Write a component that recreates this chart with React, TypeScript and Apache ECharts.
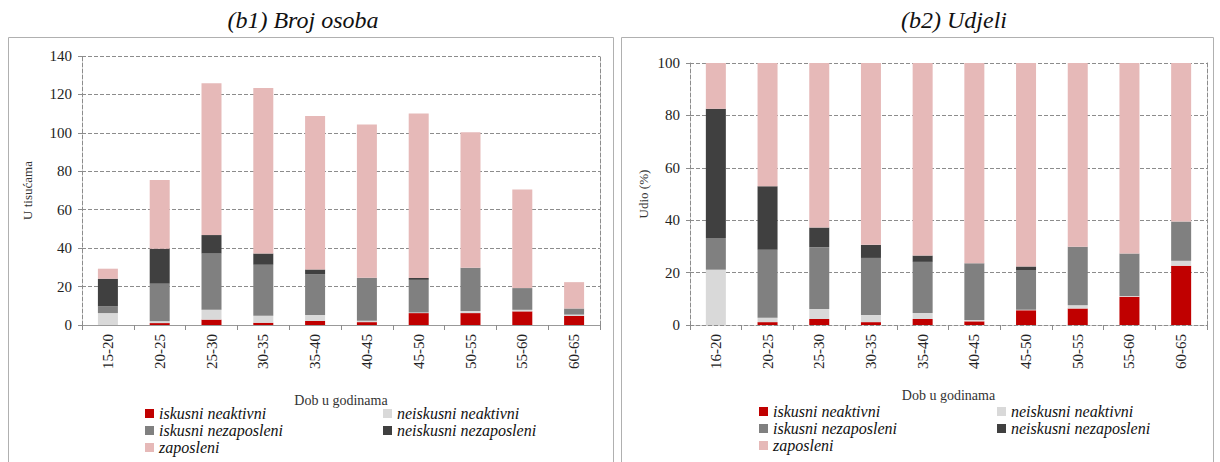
import React, { useEffect, useRef } from "react";
import * as echarts from "echarts";

const catsLeft = ["15-20", "20-25", "25-30", "30-35", "35-40", "40-45", "45-50", "50-55", "55-60", "60-65"];
const catsRight = ["16-20", "20-25", "25-30", "30-35", "35-40", "40-45", "45-50", "50-55", "55-60", "60-65"];

const seriesNames = ["iskusni neaktivni", "neiskusni neaktivni", "iskusni nezaposleni", "neiskusni nezaposleni", "zaposleni"];
const seriesColors = ["#C00000", "#D9D9D9", "#808080", "#404040", "#E6B9B8"];

// Left: number of persons (thousands)
const iskNeakL = [0, 1, 2.8, 1.2, 2.1, 1.5, 6.2, 6.2, 7.1, 4.7];
const neiskNeakL = [6.2, 1, 5.2, 3.6, 3.1, 0.7, 0.3, 1.1, 0.8, 0.7];
const iskNezL = [3.5, 19.5, 29.2, 26.5, 21.3, 22.4, 17, 22.5, 11.3, 3.2];
const neiskNezL = [14.4, 18.2, 9.6, 5.9, 2.4, 0, 1, 0, 0, 0];
const zapL = [5.2, 35.8, 79, 86.1, 79.9, 79.7, 85.6, 70.5, 51.3, 13.7];

// Right: shares (%)
const iskNeakR = [0, 1.1, 2.3, 1.1, 2.3, 1.4, 5.6, 6.3, 10.8, 22.6];
const neiskNeakR = [21.1, 1.7, 3.8, 2.7, 2.3, 0.5, 0.2, 1.2, 0.3, 1.9];
const iskNezR = [12.1, 25.9, 23.6, 21.8, 19.5, 21.7, 15.2, 22.4, 16.2, 15];
const neiskNezR = [49.3, 24.3, 7.5, 5.0, 2.4, 0, 1.3, 0, 0, 0];
const zapR = [17.5, 47, 62.8, 69.4, 73.5, 76.4, 77.7, 70.1, 72.7, 60.5];

const leftTicks = { min: 0, max: 140, interval: 20 };
const rightTicks = { min: 0, max: 100, interval: 20 };

const FONT = "'Liberation Serif', 'DejaVu Serif', serif";
const GRIDC = "#8c8c8c";

export default function App() {
  const ref = useRef<HTMLDivElement>(null);
  useEffect(() => {
    if (!ref.current) return;
    const chart = echarts.init(ref.current, null, { renderer: "svg" });
    const leftData = [iskNeakL, neiskNeakL, iskNezL, neiskNezL, zapL];
    const rightData = [iskNeakR, neiskNeakR, iskNezR, neiskNezR, zapR];

    const dashed = { show: true, lineStyle: { color: GRIDC, type: "dashed" as const, width: 1 } };

    const mkX = (grid: number, cats: string[]) => ({
      type: "category",
      gridIndex: grid,
      data: cats,
      name: "Dob u godinama",
      nameLocation: "middle",
      nameGap: grid === 0 ? 68 : 63,
      nameTextStyle: { fontFamily: FONT, fontSize: 14, color: "#333" },
      axisLine: dashed,
      axisTick: { show: true, alignWithLabel: false, length: 5, lineStyle: { color: GRIDC } },
      axisLabel: { rotate: 90, fontFamily: FONT, fontSize: 15, color: "#222", margin: 9 },
    });
    const mkY = (grid: number, t: any, name: string, gap: number) => ({
      type: "value",
      gridIndex: grid,
      ...t,
      name,
      nameLocation: "middle",
      nameGap: gap,
      nameTextStyle: { fontFamily: FONT, fontSize: 13, color: "#333" },
      axisLine: dashed,
      axisTick: { show: true, length: 4, lineStyle: { color: GRIDC } },
      axisLabel: { fontFamily: FONT, fontSize: 15, color: "#222", margin: 10 },
      splitLine: { show: true, lineStyle: { color: GRIDC, type: "dashed", width: 1 } },
    });
    const mkYRight = (grid: number, t: any) => ({
      type: "value",
      gridIndex: grid,
      position: "right",
      ...t,
      axisLine: dashed,
      axisTick: { show: false },
      axisLabel: { show: false },
      splitLine: { show: false },
    });

    const series: any[] = [];
    seriesNames.forEach((n, i) => {
      series.push({
        name: n,
        type: "bar",
        stack: "L",
        xAxisIndex: 0,
        yAxisIndex: 0,
        barWidth: 20,
        data: leftData[i],
        itemStyle: { color: seriesColors[i] },
      });
    });
    seriesNames.forEach((n, i) => {
      series.push({
        name: n,
        type: "bar",
        stack: "R",
        xAxisIndex: 1,
        yAxisIndex: 2,
        barWidth: 20,
        data: rightData[i],
        itemStyle: { color: seriesColors[i] },
      });
    });

    const legendBase = {
      orient: "vertical",
      itemWidth: 9,
      itemHeight: 9,
      itemGap: 0,
      padding: 0,
      height: 60,
      icon: "rect",
      textStyle: { fontFamily: FONT, fontStyle: "italic", fontSize: 16, color: "#111", lineHeight: 17 },
    };

    chart.setOption({
      animation: false,
      backgroundColor: "#fff",
      grid: [
        { left: 82, top: 56, width: 518, height: 269 },
        { left: 690, top: 63, width: 517, height: 262 },
      ],
      xAxis: [
        mkX(0, catsLeft),
        mkX(1, catsRight),
        {
          type: "category",
          gridIndex: 0,
          position: "top",
          data: catsLeft,
          axisLine: { show: true, lineStyle: { color: "#999", width: 1 } },
          axisTick: { show: false },
          axisLabel: { show: false },
        },
      ],
      yAxis: [
        mkY(0, leftTicks, "U tisućama", 48),
        mkYRight(0, leftTicks),
        mkY(1, rightTicks, "Udio (%)", 40),
        mkYRight(1, rightTicks),
      ],
      legend: [
        { ...legendBase, left: 145, top: 405, data: [seriesNames[0], seriesNames[2], seriesNames[4]] },
        { ...legendBase, left: 383, top: 405, data: [seriesNames[1], seriesNames[3]] },
        { ...legendBase, left: 759, top: 403, data: [seriesNames[0], seriesNames[2], seriesNames[4]] },
        { ...legendBase, left: 997, top: 403, data: [seriesNames[1], seriesNames[3]] },
      ],
      graphic: [
        { type: "rect", shape: { x: 8.5, y: 37.5, width: 605, height: 440 }, style: { fill: "none", stroke: "#b0b0b0", lineWidth: 1 }, silent: true, z: -10 },
        { type: "rect", shape: { x: 621.5, y: 37.5, width: 592, height: 440 }, style: { fill: "none", stroke: "#b0b0b0", lineWidth: 1 }, silent: true, z: -10 },
        { type: "text", x: 303, y: 20, style: { text: "(b1) Broj osoba", fontFamily: FONT, fontStyle: "italic", fontSize: 24, fill: "#111", align: "center", verticalAlign: "middle" } },
        { type: "text", x: 954, y: 20, style: { text: "(b2) Udjeli", fontFamily: FONT, fontStyle: "italic", fontSize: 24, fill: "#111", align: "center", verticalAlign: "middle" } },
      ],
      series,
    });
    return () => chart.dispose();
  }, []);
  return <div ref={ref} style={{ position: "fixed", left: 0, top: 0, width: 1220, height: 462 }} />;
}
